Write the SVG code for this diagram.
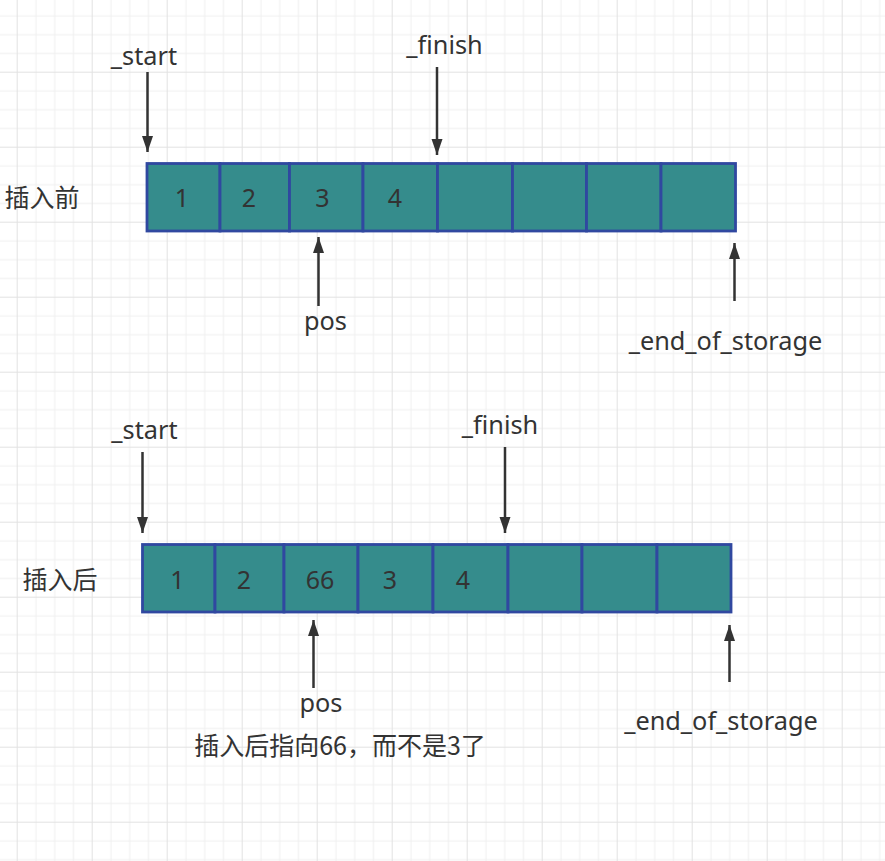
<svg xmlns="http://www.w3.org/2000/svg" width="885" height="861" viewBox="0 0 885 861">
  <defs>
    <pattern id="grid" patternUnits="userSpaceOnUse" x="16.7" y="-3.3" width="75" height="75">
      <rect x="0" y="0" width="75" height="75" fill="#ffffff"/>
      <g fill="#f0f0f0">
        <rect x="18.75" y="0" width="1" height="75"/>
        <rect x="37.5" y="0" width="1" height="75"/>
        <rect x="56.25" y="0" width="1" height="75"/>
        <rect x="0" y="18.75" width="75" height="1"/>
        <rect x="0" y="37.5" width="75" height="1"/>
        <rect x="0" y="56.25" width="75" height="1"/>
      </g>
      <g fill="#e2e2e2">
        <rect x="0" y="0" width="1" height="75"/>
        <rect x="0" y="0" width="75" height="1"/>
      </g>
    </pattern>
    <marker id="arrow" markerUnits="userSpaceOnUse" markerWidth="17" markerHeight="12" refX="16" refY="5.5" orient="auto">
      <path d="M0,0 L16,5.5 L0,11 Z" fill="#333333"/>
    </marker>
    <style>
      .cell { fill: #358c8c; stroke: #3048a0; stroke-width: 2.8; }
      .num { font-family: "Noto Sans", "Liberation Sans", sans-serif; font-size: 25px; fill: #333333; text-anchor: middle; }
      .lbl { font-family: "Noto Sans", "Liberation Sans", "Noto Sans CJK SC", sans-serif; font-size: 25.3px; fill: #333333; text-anchor: middle; }
      .cjk { font-family: "Noto Sans CJK SC", "Noto Sans", sans-serif; font-size: 25px; fill: #333333; text-anchor: middle; }
      .conn { stroke: #333333; stroke-width: 2.5; fill: none; marker-end: url(#arrow); }
    </style>
  </defs>

  <rect x="0" y="0" width="885" height="861" fill="url(#grid)"/>

  <!-- Before insertion -->
  <g id="label-before"><text class="cjk" x="42" y="206.5">插入前</text></g>
  <g id="top-cell-1"><rect class="cell" x="147" y="163.5" width="73" height="67.5"/><text class="num" x="182" y="206.5">1</text></g>
  <g id="top-cell-2"><rect class="cell" x="220" y="163.5" width="69.5" height="67.5"/><text class="num" x="249" y="206.5">2</text></g>
  <g id="top-cell-3"><rect class="cell" x="289.5" y="163.5" width="73.5" height="67.5"/><text class="num" x="322.5" y="206.5">3</text></g>
  <g id="top-cell-4"><rect class="cell" x="363" y="163.5" width="74.5" height="67.5"/><text class="num" x="395" y="206.5">4</text></g>
  <g id="top-cell-5"><rect class="cell" x="437.5" y="163.5" width="75" height="67.5"/></g>
  <g id="top-cell-6"><rect class="cell" x="512.5" y="163.5" width="74" height="67.5"/></g>
  <g id="top-cell-7"><rect class="cell" x="586.5" y="163.5" width="74.5" height="67.5"/></g>
  <g id="top-cell-8"><rect class="cell" x="661" y="163.5" width="74.5" height="67.5"/></g>

  <g id="top-start"><text class="lbl" x="144" y="64.5">_start</text></g>
  <g id="top-finish"><text class="lbl" x="444.5" y="53.5">_finish</text></g>
  <g id="top-pos"><text class="lbl" x="325.5" y="330">pos</text></g>
  <g id="top-end"><text class="lbl" x="725.5" y="349.5">_end_of_storage</text></g>

  <!-- After insertion -->
  <g id="label-after"><text class="cjk" x="60" y="589">插入后</text></g>
  <g id="bot-cell-1"><rect class="cell" x="142.5" y="544.5" width="72.5" height="67.5"/><text class="num" x="177.5" y="588.5">1</text></g>
  <g id="bot-cell-2"><rect class="cell" x="215" y="544.5" width="69" height="67.5"/><text class="num" x="244" y="588.5">2</text></g>
  <g id="bot-cell-3"><rect class="cell" x="284" y="544.5" width="74" height="67.5"/><text class="num" x="320" y="588.5">66</text></g>
  <g id="bot-cell-4"><rect class="cell" x="358" y="544.5" width="75" height="67.5"/><text class="num" x="390" y="588.5">3</text></g>
  <g id="bot-cell-5"><rect class="cell" x="433" y="544.5" width="75" height="67.5"/><text class="num" x="463" y="588.5">4</text></g>
  <g id="bot-cell-6"><rect class="cell" x="508" y="544.5" width="74" height="67.5"/></g>
  <g id="bot-cell-7"><rect class="cell" x="582" y="544.5" width="75" height="67.5"/></g>
  <g id="bot-cell-8"><rect class="cell" x="657" y="544.5" width="74" height="67.5"/></g>

  <g id="bot-start"><text class="lbl" x="144.5" y="438.5">_start</text></g>
  <g id="bot-finish"><text class="lbl" x="500" y="433.5">_finish</text></g>
  <g id="bot-pos"><text class="lbl" x="321" y="711.5">pos</text></g>
  <g id="bot-note"><text class="cjk" x="340" y="755">插入后指向66，而不是3了</text></g>
  <g id="bot-end"><text class="lbl" x="721" y="730">_end_of_storage</text></g>

  <!-- Connectors -->
  <g id="connectors">
    <line class="conn" x1="147.5" y1="72" x2="147.5" y2="152"/>
    <line class="conn" x1="437" y1="67" x2="437" y2="155"/>
    <line class="conn" x1="318.5" y1="306" x2="318.5" y2="237"/>
    <line class="conn" x1="734.5" y1="301" x2="734.5" y2="243"/>
    <line class="conn" x1="142.5" y1="452" x2="142.5" y2="533"/>
    <line class="conn" x1="505" y1="447" x2="505" y2="533"/>
    <line class="conn" x1="313.5" y1="688" x2="313.5" y2="620"/>
    <line class="conn" x1="729.5" y1="682" x2="729.5" y2="625"/>
  </g>
</svg>
